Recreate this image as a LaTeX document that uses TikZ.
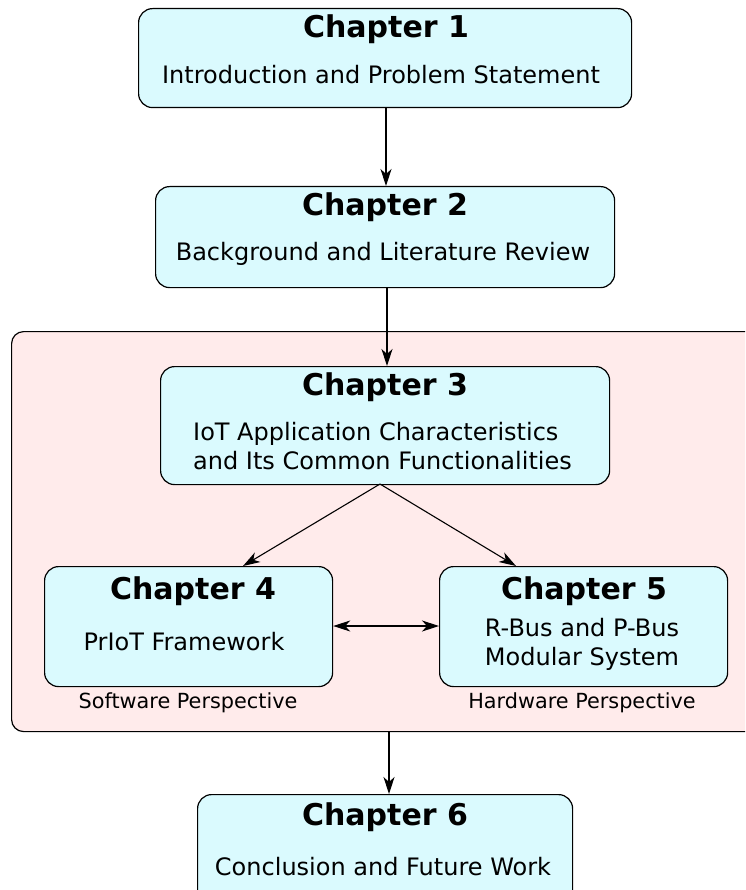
\documentclass[tikz,border=0pt]{standalone}
\usepackage{fontspec}
\setmainfont{DejaVu Sans}
\usetikzlibrary{arrows.meta}
\definecolor{boxcyan}{HTML}{DAFAFE}
\definecolor{bgpink}{HTML}{FFEBEB}
\tikzset{
  chapbox/.style={draw=black, line width=1.2pt, fill=boxcyan, rounded corners=14pt, inner sep=0pt, anchor=north west},
  title/.style={inner sep=0pt, font=\fontsize{30}{34}\selectfont\bfseries},
  body/.style={inner sep=0pt, font=\fontsize{24}{29}\selectfont},
  lbl/.style={inner sep=0pt, font=\fontsize{20.8}{24}\selectfont},
  conn/.style={line width=1.1pt, -{Stealth[length=17pt,width=11pt,inset=5pt]}},
}
\begin{document}
\begin{tikzpicture}[x=1pt,y=-1pt]
\useasboundingbox (0,0) rectangle (745,890);
\clip (0,0) rectangle (745,890);
% pink background
\node[draw=black, line width=1.2pt, fill=bgpink, rounded corners=12pt, inner sep=0pt, anchor=north west,
      minimum width=760pt, minimum height=400pt] (group) at (11,331) {};
% boxes
\node[chapbox, minimum width=493pt, minimum height=99pt] (ch1) at (138,8) {};
\node[chapbox, minimum width=459pt, minimum height=101pt] (ch2) at (155,186) {};
\node[chapbox, minimum width=449pt, minimum height=118pt] (ch3) at (160,366) {};
\node[chapbox, minimum width=288pt, minimum height=120pt] (ch4) at (44,566) {};
\node[chapbox, minimum width=288pt, minimum height=120pt] (ch5) at (439,566) {};
\node[chapbox, minimum width=375pt, minimum height=120pt] (ch6) at (197,794) {};
% texts
\node[title] (t1) at (386,29) {Chapter 1};
\node[body] (s1) at (381,75) {Introduction and Problem Statement};
\node[title] (t2) at (385,207) {Chapter 2};
\node[body] (s2) at (383,254) {Background and Literature Review};
\node[title] (t3) at (385,387) {Chapter 3};
\node[body, align=left, anchor=west] (s3) at (193,446) {IoT Application Characteristics\\and Its Common Functionalities};
\node[title] (t4) at (193,591) {Chapter 4};
\node[body] (s4) at (184,642) {PrIoT Framework};
\node[title] (t5) at (584,591) {Chapter 5};
\node[body, align=center] (s5) at (582,644) {R-Bus and P-Bus\\Modular System};
\node[title] (t6) at (385,817) {Chapter 6};
\node[body] (s6) at (383,867) {Conclusion and Future Work};
\node[lbl] (l4) at (188,703) {Software Perspective};
\node[lbl] (l5) at (582,703) {Hardware Perspective};
% connector targets
\coordinate (c4top) at (243,566);
\coordinate (c5top) at (516,566);
\coordinate (c3bot) at (380,484);
% connectors
\draw[conn] (ch1.south -| 386,0) -- (ch2.north -| 386,0);
\draw[conn] (ch2.south -| 387,0) -- (ch3.north -| 387,0);
\draw[conn] (c3bot) -- (c4top);
\draw[conn] (c3bot) -- (c5top);
\draw[line width=1.1pt, {Stealth[length=17pt,width=11pt,inset=5pt]}-{Stealth[length=17pt,width=11pt,inset=5pt]}] (ch4.east |- 0,626) -- (ch5.west |- 0,626);
\draw[conn] (group.south -| 389,0) -- (ch6.north -| 389,0);
\end{tikzpicture}
\end{document}
